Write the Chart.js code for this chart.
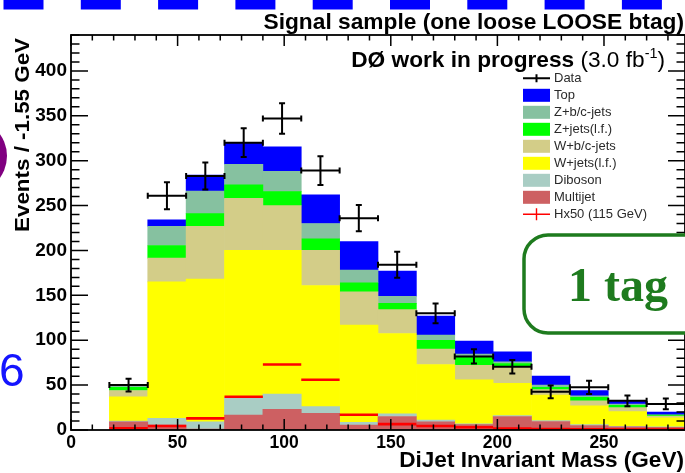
<!DOCTYPE html>
<html>
<head>
<meta charset="utf-8">
<script src="https://cdn.jsdelivr.net/npm/chart.js@4.4.1/dist/chart.umd.min.js"></script>
<style>
html,body{margin:0;padding:0;background:#fff;}
canvas{display:block;}
</style>
</head>
<body>
<canvas id="mjj" width="685" height="473"></canvas>
<script>
// ---------- bins (18 GeV wide) ----------
const binLo    = [18,36,54,72,90,108,126,144,162,180,198,216,234,252,270];
const binWidth = 18;

// ---------- backgrounds, events per bin ----------
const multijet = [9,5.5,1,16.5,23,18.5,5.5,15,9,6,15,9.5,5,3.5,3];
const diboson  = [1,7.5,8,20,17,7.5,3,3,2,1,1,1,1,0.5,0.5];
const wjetsLF  = [27,152,159,163.5,160,135,108.5,89.5,62,49,36,28.5,21,16.5,10];
const wjetsBC  = [7,26.5,59,58,50,39,37,26.5,17,16,18.5,6,5.5,4.5,2];
const zjetsLF  = [3.5,14,14,15,15.5,13,10,7,10,9,3.5,2.5,3.8,2.5,1.2];
const zjetsBC  = [1.5,21.5,25,23,22.5,17,14,8,5.6,3.5,2,2.5,1.7,1.5,0.3];
const topQ     = [2,7,18,24,27.5,32,32,28,21.4,14.5,11,10,6,4,3];

// ---------- data + signal ----------
const dataVal  = [50,261,283,320,347,289,236,184,130,82,70.5,42.5,47.5,32.5,29];
const dataErr  = [7,15,15,16,17,16,14.5,14.5,11,8,7.5,7,7.5,6,6];
const hx50     = [2,4.5,13,37,73,56,17,6.5,4.5,3,1.5,1,0.8,0.5,0.5];

// ---------- axes ----------
const xTicks = [0,50,100,150,200,250];
const yTicks = [0,50,100,150,200,250,300,350,400];

const SANS = "'Liberation Sans', Arial, Helvetica, sans-serif";
const SERIF = "'Liberation Serif', 'Times New Roman', serif";

const stackCfg = [
  {label:"Multijet",      data:multijet, color:"#cd6062"},
  {label:"Diboson",       data:diboson,  color:"#a9cdc4"},
  {label:"W+jets(l.f.)",  data:wjetsLF,  color:"#ffff00"},
  {label:"W+b/c-jets",    data:wjetsBC,  color:"#d3cd88"},
  {label:"Z+jets(l.f.)",  data:zjetsLF,  color:"#00ff00"},
  {label:"Z+b/c-jets",    data:zjetsBC,  color:"#86c1a0"},
  {label:"Top",           data:topQ,     color:"#0000ff"}
];

// Hx50 drawn as one flat segment per bin
const hxPoints = [];
binLo.forEach((lo,i)=>{
  hxPoints.push({x:lo,y:hx50[i]},{x:lo+binWidth,y:hx50[i]},{x:lo+binWidth,y:null});
});

const datasets = [{
  type:"line",
  label:"Hx50 (115 GeV)",
  stack:"hx",
  data:hxPoints,
  borderColor:"#ff0000",
  borderWidth:2.6,
  pointRadius:0,
  spanGaps:false,
  tension:0
}];
stackCfg.forEach(s=>{
  datasets.push({
    type:"bar",
    label:s.label,
    stack:"bkg",
    data:binLo.map((lo,i)=>({x:lo+binWidth/2,y:s.data[i]})),
    backgroundColor:s.color,
    borderWidth:0,
    barPercentage:1,
    categoryPercentage:1
  });
});

// text with a little horizontal stretch (ROOT fonts run wide)
function wideText(ctx,txt,x,y,sx){
  ctx.save();
  ctx.translate(x,y);
  ctx.scale(sx,1);
  ctx.fillText(txt,0,0);
  ctx.restore();
}

// ---------- data crosses ----------
const dataCross = {
  id:"dataCross",
  afterDatasetsDraw(chart){
    const {ctx,scales:{x,y}} = chart;
    ctx.save();
    ctx.strokeStyle = "#000";
    ctx.lineWidth = 2;
    binLo.forEach((lo,i)=>{
      const x0 = x.getPixelForValue(lo), x1 = x.getPixelForValue(lo+binWidth);
      const xc = (x0+x1)/2;
      const yc = y.getPixelForValue(dataVal[i]);
      const yt = y.getPixelForValue(dataVal[i]+dataErr[i]);
      const yb = y.getPixelForValue(dataVal[i]-dataErr[i]);
      ctx.beginPath();
      ctx.moveTo(x0,yc); ctx.lineTo(x1,yc);
      ctx.moveTo(xc,yt); ctx.lineTo(xc,yb);
      // end caps
      ctx.moveTo(x0,yc-3); ctx.lineTo(x0,yc+3);
      ctx.moveTo(x1,yc-3); ctx.lineTo(x1,yc+3);
      ctx.moveTo(xc-3,yt); ctx.lineTo(xc+3,yt);
      ctx.moveTo(xc-3,yb); ctx.lineTo(xc+3,yb);
      ctx.stroke();
    });
    ctx.restore();
  }
};

// ---------- frame with inward ticks on all four sides ----------
const frameTicks = {
  id:"frameTicks",
  afterDatasetsDraw(chart){
    const {ctx,chartArea:a,scales:{x,y}} = chart;
    ctx.save();
    ctx.strokeStyle = "#000";
    ctx.lineWidth = 1.5;
    ctx.beginPath();
    for(let v=0; v<=x.max; v+=10){
      const px = x.getPixelForValue(v);
      const len = v%50===0 ? 11 : 5.5;
      ctx.moveTo(px,a.bottom); ctx.lineTo(px,a.bottom-len);
      ctx.moveTo(px,a.top);    ctx.lineTo(px,a.top+len);
    }
    for(let v=0; v<=y.max; v+=10){
      const py = y.getPixelForValue(v);
      const len = v%50===0 ? 17 : 8.5;
      ctx.moveTo(a.left,py);  ctx.lineTo(a.left+len,py);
      ctx.moveTo(a.right,py); ctx.lineTo(a.right-len,py);
    }
    ctx.stroke();
    ctx.lineWidth = 1.8;
    ctx.strokeRect(a.left,a.top,a.right-a.left,a.bottom-a.top);
    ctx.restore();
  }
};

// ---------- titles, legend, labels ----------
const decorations = {
  id:"decorations",
  afterDraw(chart){
    const {ctx} = chart;
    ctx.save();

    // dashed blue strip along the top
    ctx.strokeStyle = "#0000ff";
    ctx.lineWidth = 9.5;
    ctx.setLineDash([40,37.3]);
    ctx.beginPath(); ctx.moveTo(3.5,4.75); ctx.lineTo(685,4.75); ctx.stroke();
    ctx.setLineDash([]);

    // purple disc at the left edge
    ctx.fillStyle = "#800080";
    ctx.beginPath(); ctx.arc(-30,156,37,0,Math.PI*2); ctx.fill();

    // blue 6
    ctx.fillStyle = "#1414ff";
    ctx.font = `46px ${SANS}`;
    ctx.textAlign = "left"; ctx.textBaseline = "alphabetic";
    ctx.fillText("6",-1,386);

    // titles
    ctx.fillStyle = "#000";
    ctx.font = `bold 22.5px ${SANS}`;
    ctx.textAlign = "right";
    wideText(ctx,"Signal sample (one loose LOOSE btag)",684,29,1.01);

    ctx.font = `bold 21.5px ${SANS}`;
    wideText(ctx,"DiJet Invariant Mass (GeV)",684,467,1.05);

    ctx.save();
    ctx.translate(28.5,38);
    ctx.rotate(-Math.PI/2);
    ctx.font = `bold 21px ${SANS}`;
    ctx.textAlign = "right";
    wideText(ctx,"Events / -1.55 GeV",0,0,1.065);
    ctx.restore();

    // DØ label, right aligned at x=665
    const sx = 1.03;
    let xr = 665;
    ctx.textAlign = "left";
    ctx.font = `22px ${SANS}`;
    xr -= ctx.measureText(")").width*sx; wideText(ctx,")",xr,67,sx);
    ctx.font = `14px ${SANS}`;
    xr -= ctx.measureText("-1").width*sx; wideText(ctx,"-1",xr,58,sx);
    ctx.font = `22px ${SANS}`;
    xr -= ctx.measureText("(3.0 fb").width*sx; wideText(ctx,"(3.0 fb",xr,67,sx);
    ctx.font = `bold 22px ${SANS}`;
    xr -= ctx.measureText("DØ work in progress ").width*sx; wideText(ctx,"DØ work in progress ",xr,67,sx);

    // legend
    const lx = 523, lw = 27, tx = 554, y0 = 78.3, dy = 17;
    const entries = [{label:"Data",kind:"data"}]
      .concat(stackCfg.slice().reverse().map(s=>({label:s.label,kind:"box",color:s.color})))
      .concat([{label:"Hx50 (115 GeV)",kind:"hx"}]);
    ctx.font = `13px ${SANS}`;
    ctx.textBaseline = "middle";
    entries.forEach((e,i)=>{
      const yy = y0 + i*dy;
      if(e.kind==="box"){
        ctx.fillStyle = e.color;
        ctx.fillRect(lx,yy-6.5,lw,13);
      }else{
        ctx.strokeStyle = e.kind==="data" ? "#000" : "#ff0000";
        ctx.lineWidth = e.kind==="data" ? 2 : 1.4;
        const h = e.kind==="data" ? 4 : 6;
        ctx.beginPath();
        ctx.moveTo(lx,yy); ctx.lineTo(lx+lw,yy);
        ctx.moveTo(lx+lw/2,yy-h); ctx.lineTo(lx+lw/2,yy+h);
        ctx.stroke();
      }
      ctx.fillStyle = "#2a2a2a";
      ctx.fillText(e.label,tx,yy+0.5);
    });

    // "1 tag" box
    const bx = 524, by = 235, bw = 200, bh = 98, r = 24;
    ctx.beginPath();
    ctx.moveTo(bx+r,by);
    ctx.lineTo(bx+bw,by);
    ctx.lineTo(bx+bw,by+bh);
    ctx.lineTo(bx+r,by+bh);
    ctx.arcTo(bx,by+bh,bx,by+bh-r,r);
    ctx.lineTo(bx,by+r);
    ctx.arcTo(bx,by,bx+r,by,r);
    ctx.closePath();
    ctx.fillStyle = "#fff";
    ctx.fill();
    ctx.strokeStyle = "#1e7b1e";
    ctx.lineWidth = 3.5;
    ctx.stroke();
    ctx.fillStyle = "#1e7b1e";
    ctx.font = `bold 48px ${SERIF}`;
    ctx.textAlign = "left"; ctx.textBaseline = "alphabetic";
    ctx.fillText("1 tag",568,301);

    ctx.restore();
  }
};

const ctx = document.getElementById("mjj").getContext("2d");
const chart = new Chart(ctx,{
  type:"bar",
  data:{datasets},
  options:{
    responsive:false,
    animation:false,
    devicePixelRatio:1,
    layout:{padding:{top:35,right:0,left:0,bottom:0}},
    plugins:{legend:{display:false},tooltip:{enabled:false}},
    scales:{
      x:{
        type:"linear", min:0, max:288, offset:false, stacked:true,
        grid:{display:false,drawTicks:false,offset:false},
        border:{display:false},
        afterBuildTicks:s=>{ s.ticks = xTicks.map(v=>({value:v})); },
        afterFit:s=>{ s.height = 43; },
        ticks:{color:"#000",padding:3,maxRotation:0,autoSkip:false,
               font:{family:SANS,size:17.5,weight:"bold"}}
      },
      y:{
        type:"linear", min:0, max:440, stacked:true,
        grid:{display:false,drawTicks:false},
        border:{display:false},
        afterBuildTicks:s=>{ s.ticks = yTicks.map(v=>({value:v})); },
        afterFit:s=>{ s.width = 71; },
        ticks:{color:"#000",padding:4,autoSkip:false,
               font:{family:SANS,size:19,weight:"bold"}}
      }
    }
  },
  plugins:[dataCross,frameTicks,decorations]
});
</script>
</body>
</html>
